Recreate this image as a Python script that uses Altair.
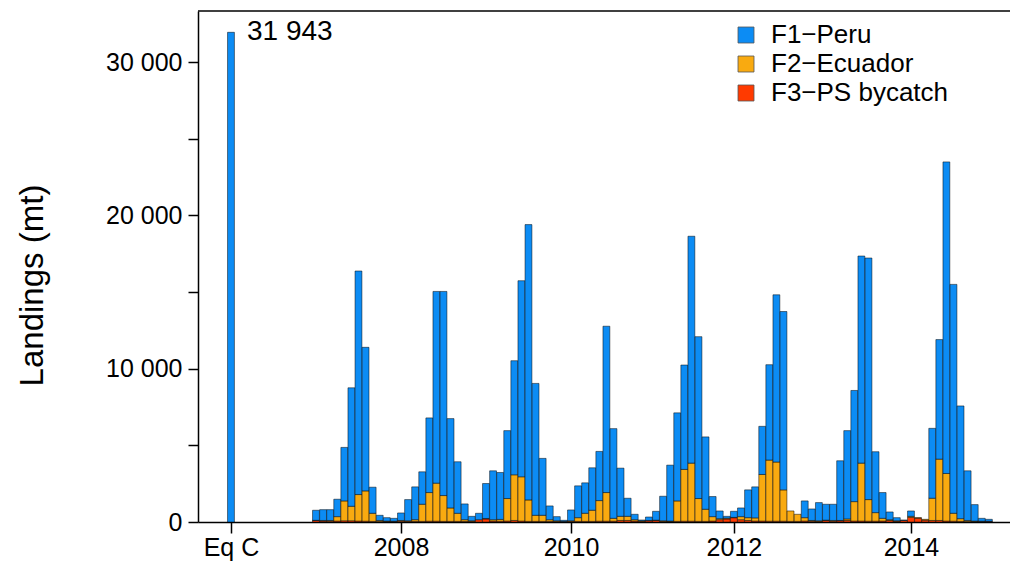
import altair as alt
import pandas as pd

# ---- data (monthly landings, mt) ----
years = [2007, 2008, 2009, 2010, 2011, 2012, 2013, 2014]
series = ["F1\u2212Peru", "F2\u2212Ecuador", "F3\u2212PS bycatch"]
colors = ["#0C8CF4", "#F9AA10", "#FF3A00"]

f1_peru = [
    [656, 706, 706, 1136, 3491, 7729, 14582, 9365, 1702, 337, 223, 190],
    [490, 1382, 2140, 2117, 4869, 12508, 13315, 5828, 3362, 1027, 291, 418],
    [2280, 3190, 3060, 4430, 7440, 12790, 17960, 8603, 3713, 898, 270, 70],
    [706, 2075, 1986, 2770, 3207, 10849, 5850, 3143, 1179, 353, 51, 227],
    [578, 1600, 3650, 5745, 6810, 14800, 10560, 4720, 1310, 502, 121, 398],
    [567, 1813, 2022, 3140, 6220, 10910, 11634, 0, 0, 1092, 751, 1186],
    [1037, 1057, 3895, 5760, 7250, 13510, 15758, 3972, 1681, 505, 203, 31],
    [349, 0, 0, 4560, 7800, 20325, 14932, 7352, 3240, 1075, 190, 125],
]
f2_ecuador = [
    [10, 40, 50, 290, 1295, 946, 1730, 1980, 528, 70, 30, 20],
    [50, 40, 112, 1117, 1871, 2482, 1685, 877, 528, 112, 40, 0],
    [30, 90, 120, 1470, 2980, 2890, 1400, 397, 397, 110, 50, 20],
    [40, 243, 528, 726, 1347, 1871, 190, 271, 271, 90, 40, 20],
    [20, 40, 30, 1335, 3380, 3790, 1490, 790, 290, 68, 50, 20],
    [200, 183, 210, 3040, 3990, 3860, 2046, 680, 463, 223, 50, 40],
    [20, 50, 20, 100, 1270, 3780, 1412, 562, 180, 50, 30, 0],
    [71, 33, 55, 1450, 4000, 3105, 518, 178, 70, 30, 20, 10],
]
f3_bycatch = [
    [100, 60, 50, 60, 80, 80, 60, 50, 40, 30, 30, 30],
    [50, 40, 40, 40, 50, 50, 40, 40, 40, 40, 40, 150],
    [200, 60, 50, 60, 100, 60, 40, 40, 40, 40, 30, 20],
    [40, 40, 40, 40, 50, 50, 50, 100, 100, 60, 40, 80],
    [100, 40, 30, 40, 50, 50, 40, 40, 60, 150, 200, 280],
    [150, 100, 60, 60, 50, 50, 50, 40, 40, 60, 50, 40],
    [100, 50, 80, 100, 60, 60, 50, 50, 60, 100, 50, 100],
    [300, 250, 120, 100, 100, 60, 50, 40, 30, 30, 30, 40],
]

eqc_label = "Eq C"
eqc_pos = 2006.0
eqc_value = 31943

x_tick_values = [2006, 2008, 2010, 2011.9167, 2014]

# ---- build stacked table ----
rows = []
for yi, yr in enumerate(years):
    for m in range(12):
        pos = yr + m / 12
        base = 0
        for name, arr in [(series[2], f3_bycatch), (series[1], f2_ecuador), (series[0], f1_peru)]:
            v = arr[yi][m]
            if v > 0:
                rows.append(dict(pos=pos, lo=base, hi=base + v, series=name))
            base += v
rows.append(dict(pos=eqc_pos, lo=0, hi=eqc_value, series=series[0]))
df = pd.DataFrame(rows)
half = 0.97 / 24
df["x0"] = df["pos"] - half
df["x1"] = df["pos"] + half

FONT = "Liberation Sans"
xscale = alt.Scale(domain=[2005.612, 2015.165], nice=False, zero=False)
yscale = alt.Scale(domain=[0, 33333], nice=False)

bars = alt.Chart(df).mark_bar(stroke="#000000", strokeOpacity=0.55, strokeWidth=0.9).encode(
    x=alt.X("x0:Q", scale=xscale, axis=alt.Axis(
        values=x_tick_values, title=None,
        labelExpr="datum.value < 2007 ? 'Eq C' : format(round(datum.value), 'd')",
        labelFont=FONT, labelFontSize=25, labelColor="black", labelPadding=2,
        labelOverlap=False, labelFlush=False,
        tickSize=11, tickWidth=1.5, tickColor="black",
        domainColor="black", domainWidth=1.5, grid=False)),
    x2="x1:Q",
    y=alt.Y("lo:Q", scale=yscale, axis=alt.Axis(
        values=list(range(0, 30001, 5000)),
        labelExpr="datum.value % 10000 == 0 ? replace(format(datum.value, ','), ',', ' ') : ''",
        title="Landings (mt)", titleFont=FONT, titleFontSize=33, titleFontWeight="normal",
        titleColor="black", titleX=-156, titleY=274, titleAngle=270,
        titleBaseline="alphabetic", titleAlign="center",
        labelFont=FONT, labelFontSize=25, labelColor="black", labelPadding=6,
        labelOverlap=False,
        tickSize=10, tickWidth=1.5, tickColor="black",
        domainColor="black", domainWidth=1.5, grid=False)),
    y2="hi:Q",
    color=alt.Color("series:N", scale=alt.Scale(domain=series, range=colors), legend=alt.Legend(
        title=None, orient="none", legendX=535, legendY=11, padding=0,
        symbolType="square", symbolSize=256, symbolStrokeColor="#555555", symbolStrokeWidth=0.8,
        labelFont=FONT, labelFontSize=26, labelColor="black", labelOffset=12, labelLimit=400,
        rowPadding=3)),
)

label_df = pd.DataFrame({"pos": [eqc_pos], "val": [eqc_value],
                         "txt": [f"{eqc_value:,}".replace(",", " ")]})
txt = alt.Chart(label_df).mark_text(align="left", baseline="alphabetic", dx=16, dy=8,
                                    fontSize=28, font=FONT, color="black").encode(
    x=alt.X("pos:Q", scale=xscale), y=alt.Y("val:Q", scale=yscale), text="txt:N")

top = alt.Chart(pd.DataFrame({"a": [0]})).mark_rule(color="black", strokeWidth=1.5).encode(
    y=alt.value(0), x=alt.value(0), x2=alt.value(812))

chart = alt.layer(bars, txt, top).properties(
    width=812, height=511,
    padding={"left": 198, "top": 11, "right": 0, "bottom": 39},
    autosize=alt.AutoSizeParams(type="none"),
).configure_view(stroke=None)

chart.save("out.html", embed_options={"renderer": "svg", "actions": False})
